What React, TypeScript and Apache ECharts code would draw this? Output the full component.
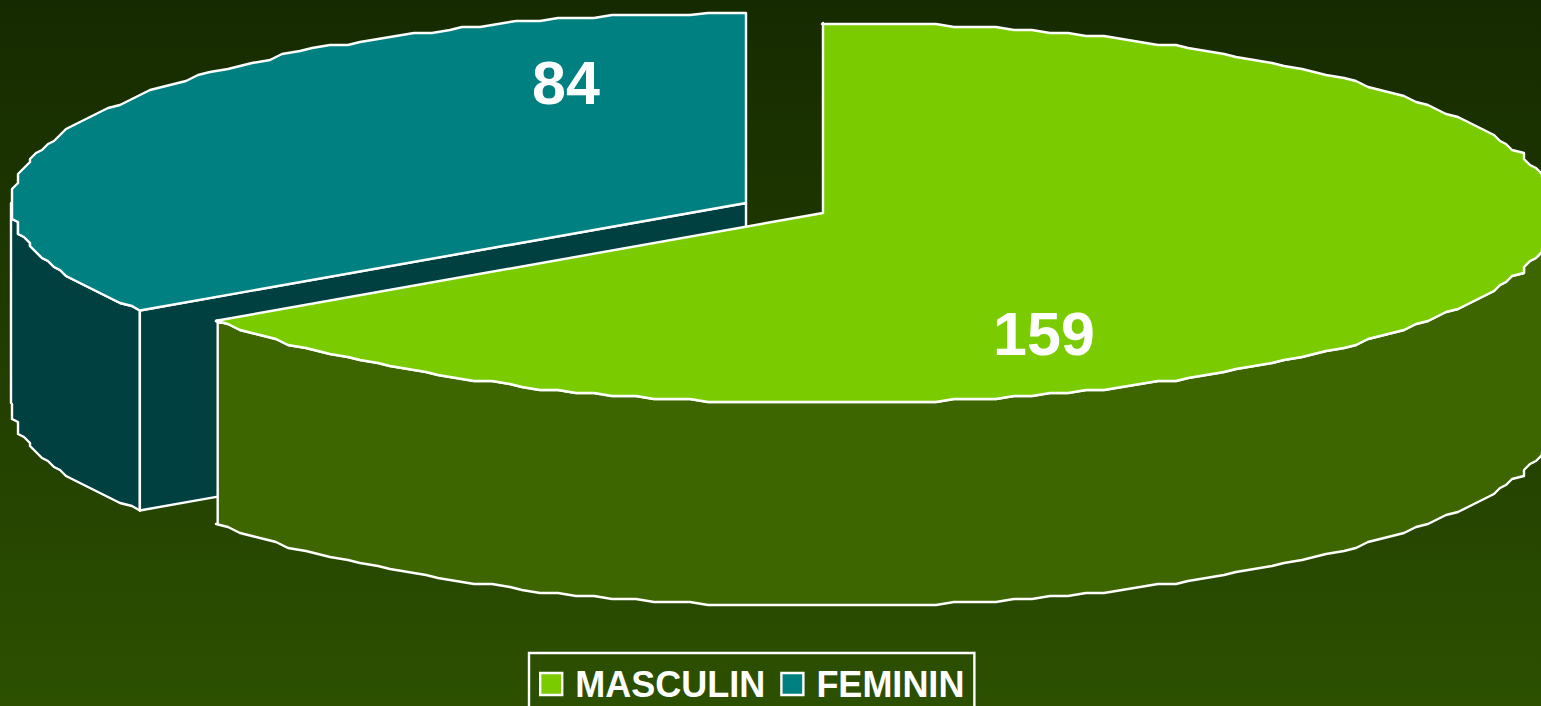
import React, { useEffect, useRef } from "react";
import * as echarts from "echarts";

const categories = ["MASCULIN", "FEMININ"];
const values = [159, 84];
const topColors = ["#7ACC00", "#008080"];
const sideColors = ["#3D6600", "#004040"];

const centers = [[823, 213], [746, 203]];
const depths = [203, 200];
const radiiX = [734, 735];
const RY = 190;
const labelPos = [[1044, 334], [566, 83]];
const GX = 6;
const GY = 3;
const STEP = 1.5;

const total = values.reduce((a, b) => a + b, 0);

function exact(i: number, a: number, cx: number, cy: number) {
  const r = (a * Math.PI) / 180;
  return [cx + radiiX[i] * Math.sin(r), cy - RY * Math.cos(r)];
}

// stepped rim, never leaving the ellipse's bounding box
function snap(i: number, p: number[], cx: number, cy: number) {
  const x = Math.round(p[0] / GX) * GX;
  const y = Math.round(p[1] / GY) * GY;
  return [
    Math.min(cx + radiiX[i], Math.max(cx - radiiX[i], x)),
    Math.min(cy + RY, Math.max(cy - RY, y)),
  ];
}

// samples on one absolute angle grid, so that the top face and the wall share the same rim
function arc(i: number, cx: number, cy: number, a0: number, a1: number) {
  const out: number[][] = [];
  for (let k = Math.ceil(a0 / STEP); k * STEP <= a1; k++) {
    const p = snap(i, exact(i, k * STEP, cx, cy), cx, cy);
    const last = out[out.length - 1];
    if (!last || last[0] !== p[0] || last[1] !== p[1]) out.push(p);
  }
  return out;
}

function makeRender(index: number) {
  return (_params: any, api: any) => {
    const value = api.value(0) as number;
    const before = values.slice(0, index).reduce((a, b) => a + b, 0);
    const start = (before / total) * 360;
    const end = start + (value / total) * 360;
    const [cx, cy] = centers[index];
    const d = depths[index];
    const base = { stroke: "#fff", lineWidth: 2.4, lineJoin: "round" };
    const children: any[] = [];

    // rim wall: visible for the front half of the ellipse (90..270 degrees)
    const w0 = Math.max(start, 90);
    const w1 = Math.min(end, 270);
    if (w1 > w0) {
      const top = [exact(index, w0, cx, cy), ...arc(index, cx, cy, w0, w1), exact(index, w1, cx, cy)];
      const bottom = top.map((p) => [p[0], p[1] + d]).reverse();
      children.push({
        type: "polygon",
        shape: { points: [...top, ...bottom] },
        style: { ...base, fill: sideColors[index] },
      });
    }
    // cut face of a slice whose start edge looks to the viewer
    if (start > 180) {
      const p = exact(index, start, cx, cy);
      children.push({
        type: "polygon",
        shape: { points: [[cx, cy], p, [p[0], p[1] + d], [cx, cy + d]] },
        style: { ...base, fill: sideColors[index] },
      });
    }
    // top face
    children.push({
      type: "polygon",
      shape: {
        points: [
          [cx, cy],
          exact(index, start, cx, cy),
          ...arc(index, cx, cy, start, end),
          exact(index, end, cx, cy),
        ],
      },
      style: { ...base, fill: topColors[index] },
    });
    children.push({
      type: "text",
      x: labelPos[index][0],
      y: labelPos[index][1],
      style: {
        text: String(value),
        fill: "#fff",
        font: 'bold 61px "Liberation Sans", Arial, sans-serif',
        align: "center",
        verticalAlign: "middle",
      },
    });
    return { type: "group", children };
  };
}

export default function App() {
  const ref = useRef<HTMLDivElement>(null);
  useEffect(() => {
    document.body.style.margin = "0";
    document.body.style.overflow = "hidden";
    const chart = echarts.init(ref.current!, undefined, { renderer: "svg" });
    chart.setOption({
      animation: false,
      backgroundColor: new echarts.graphic.LinearGradient(0, 0, 0, 1, [
        { offset: 0, color: "#162A00" },
        { offset: 1, color: "#2C5000" },
      ]),
      legend: {
        left: 529,
        top: 653,
        padding: [13, 10, 10, 10],
        orient: "horizontal",
        borderColor: "#fff",
        borderWidth: 2.4,
        itemWidth: 22,
        itemHeight: 22,
        itemGap: 15,
        icon: "rect",
        itemStyle: { borderColor: "#fff", borderWidth: 2.4 },
        textStyle: {
          color: "#fff",
          fontWeight: "bold",
          fontSize: 36,
          fontFamily: '"Liberation Sans", Arial, sans-serif',
          padding: [0, 0, 0, 8],
        },
        data: categories,
      },
      series: categories.map((name, i) => ({
        type: "custom",
        name,
        coordinateSystem: "none",
        z: i === 0 ? 3 : 2,
        silent: true,
        itemStyle: { color: topColors[i] },
        data: [[values[i]]],
        renderItem: makeRender(i),
      })),
    });
    return () => chart.dispose();
  }, []);
  return <div ref={ref} style={{ width: 1541, height: 706 }} />;
}
